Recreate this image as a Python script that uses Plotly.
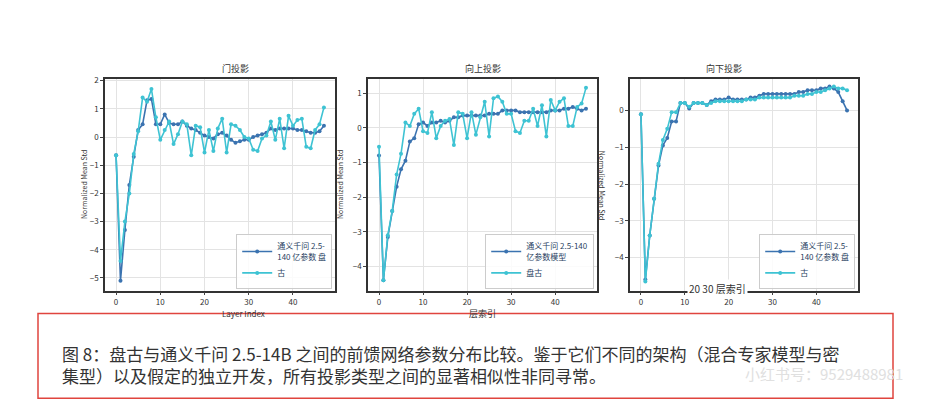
import plotly.graph_objects as go

layers = list(range(48))

gate_qwen = [-0.65, -5.1, -3.3, -1.7, -0.7, 0.25, 0.45, 1.3, 1.35, 0.45, 0.45, 0.8, 0.5, 0.45, 0.45, 0.55,
             0.4, 0.3, 0.25, 0.15, 0.05, 0.0, -0.05, 0.1, 0.15, 0.05, -0.1, -0.2, -0.15, -0.1, -0.1, 0.0,
             0.05, 0.1, 0.15, 0.3, 0.25, 0.3, 0.3, 0.3, 0.3, 0.25, 0.25, 0.2, 0.15, 0.15, 0.2, 0.4]
gate_pangu = [-0.65, -4.4, -3.0, -2.0, -0.6, 0.2, 1.4, 1.25, 1.7, 0.7, -0.1, 0.25, 0.55, -0.25, 0.1, 0.55,
              0.45, -0.65, 0.4, 0.35, -0.55, 0.25, -0.5, 0.3, 0.65, -0.55, 0.45, 0.4, 0.25, 0.0, -0.05, -0.45,
              -0.5, -0.05, 0.05, 0.55, -0.1, 0.65, -0.4, 0.75, 0.4, 0.6, 0.65, -0.35, -0.4, 0.25, 0.45, 1.05]

up_qwen = [-0.8, -4.4, -3.15, -2.4, -1.7, -1.2, -0.95, -0.4, -0.3, 0.1, 0.15, 0.05, 0.15, 0.15, 0.2, 0.15,
           0.2, 0.3, 0.3, 0.35, 0.35, 0.35, 0.35, 0.35, 0.35, 0.4, 0.4, 0.4, 0.5, 0.5, 0.5, 0.5,
           0.45, 0.45, 0.45, 0.45, 0.45, 0.45, 0.45, 0.5, 0.5, 0.5, 0.55, 0.55, 0.6, 0.55, 0.5, 0.55]
up_pangu = [-0.55, -4.4, -3.1, -2.4, -1.35, -0.75, 0.15, 0.05, 0.4, 0.55, -0.1, -0.15, 0.45, -0.3, 0.05, 0.2,
            0.25, -0.5, 0.45, 0.4, -0.3, 0.45, -0.2, 0.3, 0.75, -0.25, 0.85, 0.9, 0.75, 0.4, 0.4, -0.1,
            -0.15, 0.2, 0.2, 0.55, 0.05, 0.65, -0.25, 0.8, 0.5, 0.75, 0.85, 0.05, 0.05, 0.6, 0.7, 1.15]

down_qwen = [-0.1, -4.6, -3.4, -2.4, -1.5, -0.95, -0.75, -0.3, -0.3, 0.2, 0.2, 0.05, 0.2, 0.2, 0.2, 0.15,
             0.25, 0.3, 0.3, 0.3, 0.35, 0.3, 0.3, 0.3, 0.3, 0.35, 0.35, 0.4, 0.45, 0.45, 0.45, 0.45,
             0.45, 0.45, 0.45, 0.45, 0.5, 0.5, 0.55, 0.55, 0.55, 0.6, 0.6, 0.65, 0.6, 0.5, 0.25, 0.0]
down_pangu = [-0.1, -4.65, -3.4, -2.4, -1.45, -0.8, -0.5, -0.05, -0.05, 0.2, 0.2, 0.1, 0.2, 0.2, 0.2, 0.15,
              0.2, 0.25, 0.25, 0.25, 0.25, 0.25, 0.25, 0.25, 0.3, 0.3, 0.3, 0.35, 0.35, 0.35, 0.35, 0.35,
              0.35, 0.35, 0.35, 0.4, 0.4, 0.4, 0.45, 0.45, 0.5, 0.5, 0.55, 0.6, 0.65, 0.6, 0.6, 0.55]

titles = ["门投影", "向上投影", "向下投影"]
legend_names = [("通义千问 2.5-<br>140 亿参数 盘", "古"),
                ("通义千问 2.5-140<br>亿参数模型", "盘古"),
                ("通义千问 2.5-<br>140 亿参数 盘", "古")]
y_ranges = [(-5.45, 2.05), (-4.7, 1.4), (-4.9, 0.85)]
y_ticks = [[-5, -4, -3, -2, -1, 0, 1, 2], [-4, -3, -2, -1, 0, 1], [-4, -3, -2, -1, 0]]

DARK = "#3b73b0"
CYAN = "#3ec3d3"
FONT = "Noto Sans CJK SC"
W, H = 930, 420
DX, DY = -8, -9  # page offset correction in pixels


def px(x):
    return (x + DX) / W


def py(y):
    return 1 - (y + DY) / H


x_domains = [(px(105), px(335)), (px(368), px(597)), (px(630), px(858))]
y_domain = (py(290), py(76))

fig = go.Figure()
series = [(gate_qwen, gate_pangu), (up_qwen, up_pangu), (down_qwen, down_pangu)]
for i, (qwen, pangu) in enumerate(series):
    n = "" if i == 0 else str(i + 1)
    leg = "legend" + n
    for ys, color, name in [(qwen, DARK, legend_names[i][0]), (pangu, CYAN, legend_names[i][1])]:
        fig.add_trace(go.Scatter(
            x=layers, y=ys, mode="lines+markers", name=name,
            line=dict(color=color, width=1.6), marker=dict(color=color, size=4),
            xaxis="x" + n, yaxis="y" + n, legend=leg,
        ))
    axis_common = dict(showgrid=True, gridcolor="#e3e3e3", showline=True, mirror=True,
                       linecolor="#333333", linewidth=1.5, ticks="outside", ticklen=3,
                       tickfont=dict(size=8, color="#333333"), zeroline=False)
    fig.layout["xaxis" + n] = dict(domain=x_domains[i], range=[-2.5, 49.5], tickvals=[0, 10, 20, 30, 40],
                                   anchor="y" + n, **axis_common)
    fig.layout["yaxis" + n] = dict(domain=y_domain, range=y_ranges[i], tickvals=y_ticks[i],
                                   anchor="x" + n, **axis_common)
    fig.layout[leg] = dict(x=x_domains[i][1] - 0.003, xanchor="right", y=y_domain[0] + 0.005, yanchor="bottom",
                           bgcolor="rgba(255,255,255,0.85)", bordercolor="#cccccc", borderwidth=1,
                           font=dict(size=8, family=FONT), tracegroupgap=0, itemwidth=30)
    xc = (x_domains[i][0] + x_domains[i][1]) / 2
    fig.add_annotation(text=titles[i], x=xc, y=y_domain[1] + 0.005, xref="paper", yref="paper",
                       yanchor="bottom", showarrow=False, font=dict(size=9, family=FONT, color="#333"))
    fig.add_annotation(text="Normalized Mean Std", x=x_domains[i][0] - 0.03, y=sum(y_domain) / 2,
                       xref="paper", yref="paper", showarrow=False, textangle=90 if i == 2 else -90,
                       font=dict(size=7, color="#333"))

fig.add_annotation(text="Layer Index", x=sum(x_domains[0]) / 2, y=py(306), xref="paper", yref="paper",
                   yanchor="top", showarrow=False, font=dict(size=8, color="#333"))
fig.add_annotation(text="层索引", x=sum(x_domains[1]) / 2, y=py(305), xref="paper", yref="paper",
                   yanchor="top", showarrow=False, font=dict(size=9, family=FONT, color="#333"))
fig.add_annotation(text="20 30 层索引", x=px(748), y=py(297), xref="paper", yref="paper",
                   showarrow=False, bgcolor="white", font=dict(size=10, family=FONT, color="#333"))

fig.add_shape(type="rect", x0=px(38), x1=px(893), y0=py(399), y1=py(313),
              xref="paper", yref="paper", line=dict(color="#e0443e", width=1.5))
fig.add_annotation(
    text="图 8：盘古与通义千问 2.5-14B 之间的前馈网络参数分布比较。鉴于它们不同的架构（混合专家模型与密"
         "<br>集型）以及假定的独立开发，所有投影类型之间的显著相似性非同寻常。",
    x=px(60), y=py(365), xref="paper", yref="paper", xanchor="left", yanchor="middle",
    align="left", showarrow=False, font=dict(size=17, family=FONT, color="#333"))
fig.add_annotation(text="小红书号：9529488981", x=px(905), y=py(386), xref="paper", yref="paper",
                   xanchor="right", showarrow=False, font=dict(size=15, family=FONT, color="#e0e0e0"))

fig.update_layout(width=W, height=H, margin=dict(l=0, r=0, t=0, b=0),
                  plot_bgcolor="white", paper_bgcolor="white", showlegend=True,
                  font=dict(family=FONT))
fig.write_html("out.html")
